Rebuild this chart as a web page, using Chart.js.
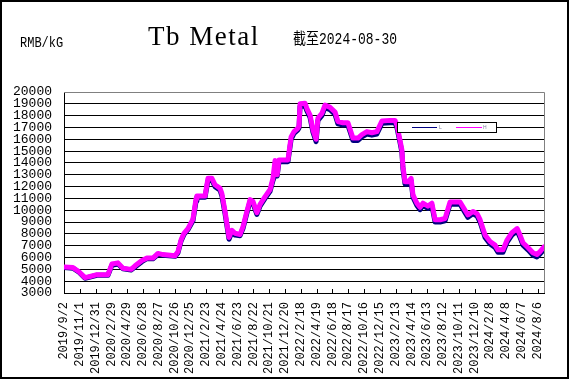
<!DOCTYPE html>
<html><head><meta charset="utf-8">
<script src="https://cdn.jsdelivr.net/npm/chart.js@4/dist/chart.umd.min.js"></script>
<style>html,body{margin:0;padding:0;background:#fff}#c{display:block}</style>
</head><body>
<canvas id="c" width="570" height="380"></canvas>
<script>
// ---- data ----
const titleText = 'Tb Metal';
const unitText = 'RMB/kG';
const asOfText = '截至2024-08-30';
const seriesNames = ['L', 'H'];
const xTickLabels = ['2019/9/2','2019/11/1','2019/12/31','2020/2/29','2020/4/29','2020/6/28','2020/8/27','2020/10/26','2020/12/25','2021/2/23','2021/4/24','2021/6/23','2021/8/22','2021/10/21','2021/12/20','2022/2/18','2022/4/19','2022/6/18','2022/8/17','2022/10/16','2022/12/15','2023/2/13','2023/4/14','2023/6/13','2023/8/12','2023/10/11','2023/12/10','2024/2/8','2024/4/8','2024/6/7','2024/8/6'];
// days since 2019-09-02
const dayOffsets = [0,34,57,80,99,125,167,182,205,224,255,270,296,315,338,357,376,422,433,445,456,471,490,502,505,536,547,562,574,593,600,612,627,638,650,669,680,695,707,718,733,745,764,783,794,802,810,817,851,863,874,889,893,897,916,923,935,946,958,965,980,992,1011,1030,1041,1060,1079,1098,1117,1132,1151,1170,1189,1208,1239,1258,1265,1277,1284,1288,1296,1307,1319,1326,1341,1353,1364,1383,1398,1410,1429,1448,1467,1505,1524,1535,1554,1570,1581,1600,1619,1638,1649,1668,1684,1702,1722,1733,1744,1763,1782,1797,1809,1824];
const highPrices = [5200,5150,4800,4300,4400,4550,4550,5450,5550,5100,5000,5300,5750,5950,5950,6350,6250,6150,6500,7500,8050,8450,9250,11000,11200,11200,12700,12700,12150,11850,11400,9900,7700,8300,8050,7950,8600,9900,10900,10750,9800,10500,11150,11750,12700,14200,13000,14250,14250,16200,16650,16950,17100,19000,19050,18600,18050,16800,16000,17800,18200,18900,18700,18300,17500,17400,17400,16100,16100,16400,16650,16550,16650,17550,17600,17600,17200,15900,15100,13700,12400,12400,12700,11300,10600,10250,10600,10350,10600,9200,9200,9300,10700,10700,10000,9600,9900,9700,9200,7900,7350,7050,6650,6650,7500,8100,8450,7900,7250,6850,6400,6250,6500,6900];
const lowPrices = [5150,5100,4750,4250,4350,4500,4500,5350,5450,5050,4950,5200,5650,5900,5900,6250,6200,6100,6400,7400,7950,8350,9100,10800,11100,11100,12500,12550,12000,11700,11200,9700,7550,8150,7900,7850,8450,9750,10750,10600,9650,10350,11000,11600,12500,13000,12900,14100,14100,16000,16500,16800,16950,18800,18850,18400,17850,16600,15800,17600,18000,18700,18500,18100,17300,17200,17200,15900,15900,16200,16450,16350,16450,17350,17400,17400,17000,15700,14900,13500,12200,12200,12500,11100,10400,10050,10400,10150,10400,9000,9000,9100,10500,10500,9800,9400,9700,9500,9000,7700,7150,6850,6450,6450,7300,7900,8250,7700,7050,6650,6200,6050,6300,6700];
const yMin = 3000, yMax = 20000, yStep = 1000, xMax = 1824, xStep = 60;

const lowData = dayOffsets.map((d, i) => ({x: d, y: lowPrices[i]}));
const highData = dayOffsets.map((d, i) => ({x: d, y: highPrices[i]}));
const colors = {L: '#000080', H: '#FF00FF'};

const decor = {
  id: 'decor',
  beforeDraw(chart) {
    const ctx = chart.ctx;
    ctx.save();
    ctx.fillStyle = '#fff';
    ctx.fillRect(0, 0, chart.width, chart.height);
    ctx.restore();
  },
  afterDatasetsDraw(chart) {
    const ctx = chart.ctx, a = chart.chartArea, xs = chart.scales.x;
    ctx.save();
    // gray top/right border of plot
    ctx.strokeStyle = '#808080'; ctx.lineWidth = 1;
    ctx.beginPath();
    ctx.moveTo(a.left, Math.round(a.top) + 0.5);
    ctx.lineTo(Math.round(a.right) + 0.5, Math.round(a.top) + 0.5);
    ctx.lineTo(Math.round(a.right) + 0.5, Math.round(a.bottom));
    ctx.stroke();
    // inside tick marks on x axis
    ctx.strokeStyle = '#000';
    ctx.beginPath();
    xTickLabels.forEach((_, i) => {
      const px = Math.round(xs.getPixelForValue(i * xStep)) + 0.5;
      ctx.moveTo(px, a.bottom);
      ctx.lineTo(px, a.bottom - 4);
    });
    ctx.stroke();
    // legend box
    const lx = 397, ly = 122, lw = 99, lh = 10;
    ctx.fillStyle = '#fff';
    ctx.fillRect(lx, ly, lw, lh);
    ctx.strokeStyle = '#000';
    ctx.strokeRect(lx + 0.5, ly + 0.5, lw, lh);
    const my = ly + 5.5;
    ctx.lineWidth = 1;
    ctx.strokeStyle = colors.L;
    ctx.beginPath(); ctx.moveTo(412, my); ctx.lineTo(437, my); ctx.stroke();
    ctx.strokeStyle = colors.H;
    ctx.beginPath(); ctx.moveTo(456, my); ctx.lineTo(482, my); ctx.stroke();
    ctx.fillStyle = '#8080a0';
    ctx.font = '5px "Liberation Sans"';
    ctx.textBaseline = 'middle';
    ctx.fillText(seriesNames[0], 439, my);
    ctx.fillText(seriesNames[1], 483, my);
    ctx.restore();
  },
  afterDraw(chart) {
    const ctx = chart.ctx;
    ctx.save();
    ctx.fillStyle = '#000';
    ctx.textBaseline = 'alphabetic';
    // title
    ctx.font = '27px "Liberation Serif"';
    try { ctx.letterSpacing = '1.5px'; } catch (e) {}
    ctx.fillText(titleText, 148, 45);
    try { ctx.letterSpacing = '0px'; } catch (e) {}
    // unit
    ctx.save();
    ctx.translate(20, 47);
    ctx.scale(1, 1.25);
    ctx.font = '12px "Liberation Mono"';
    ctx.fillText(unitText, 0, 0);
    ctx.restore();
    // as-of date
    ctx.save();
    ctx.translate(293, 44);
    ctx.scale(1, 1.2);
    ctx.font = '13px "Liberation Mono", "Noto Sans CJK SC"';
    ctx.fillText(asOfText, 0, 0);
    ctx.restore();
    // outer frame
    ctx.strokeStyle = '#000'; ctx.lineWidth = 2;
    ctx.strokeRect(1, 1, 567, 377);
    ctx.restore();
  }
};

new Chart(document.getElementById('c'), {
  type: 'line',
  data: {
    datasets: [
      {label: seriesNames[0], data: lowData, borderColor: colors.L, backgroundColor: colors.L, borderWidth: 5, order: 2},
      {label: seriesNames[1], data: highData, borderColor: colors.H, backgroundColor: colors.H, borderWidth: 5, order: 1}
    ]
  },
  options: {
    responsive: false,
    animation: false,
    devicePixelRatio: 1,
    layout: {padding: {left: 0, right: 26, top: 92, bottom: 0}},
    elements: {
      point: {radius: 0},
      line: {tension: 0, borderJoinStyle: 'round', borderCapStyle: 'round'}
    },
    plugins: {legend: {display: false}, tooltip: {enabled: false}, title: {display: false}},
    scales: {
      x: {
        type: 'linear', min: 0, max: xMax,
        afterBuildTicks: s => { s.ticks = xTickLabels.map((_, i) => ({value: i * xStep})); },
        afterFit: s => { s.height = 87; },
        grid: {drawOnChartArea: false, drawTicks: false},
        border: {color: '#000', width: 1},
        ticks: {
          autoSkip: false, minRotation: 90, maxRotation: 90, padding: 9,
          color: '#000', font: {family: 'Liberation Mono', size: 12},
          callback: (v, i) => xTickLabels[i]
        }
      },
      y: {
        min: yMin, max: yMax,
        afterFit: s => { s.width = 64; },
        grid: {drawTicks: false, color: c => (c.tick && c.tick.value === yMax) ? '#808080' : '#000', lineWidth: 1},
        border: {color: '#000', width: 1},
        ticks: {stepSize: yStep, autoSkip: false, padding: 12, color: '#000', font: {family: 'Liberation Mono', size: 13, lineHeight: 1},
          callback: v => String(v)}
      }
    }
  },
  plugins: [decor]
});
</script>
</body></html>
